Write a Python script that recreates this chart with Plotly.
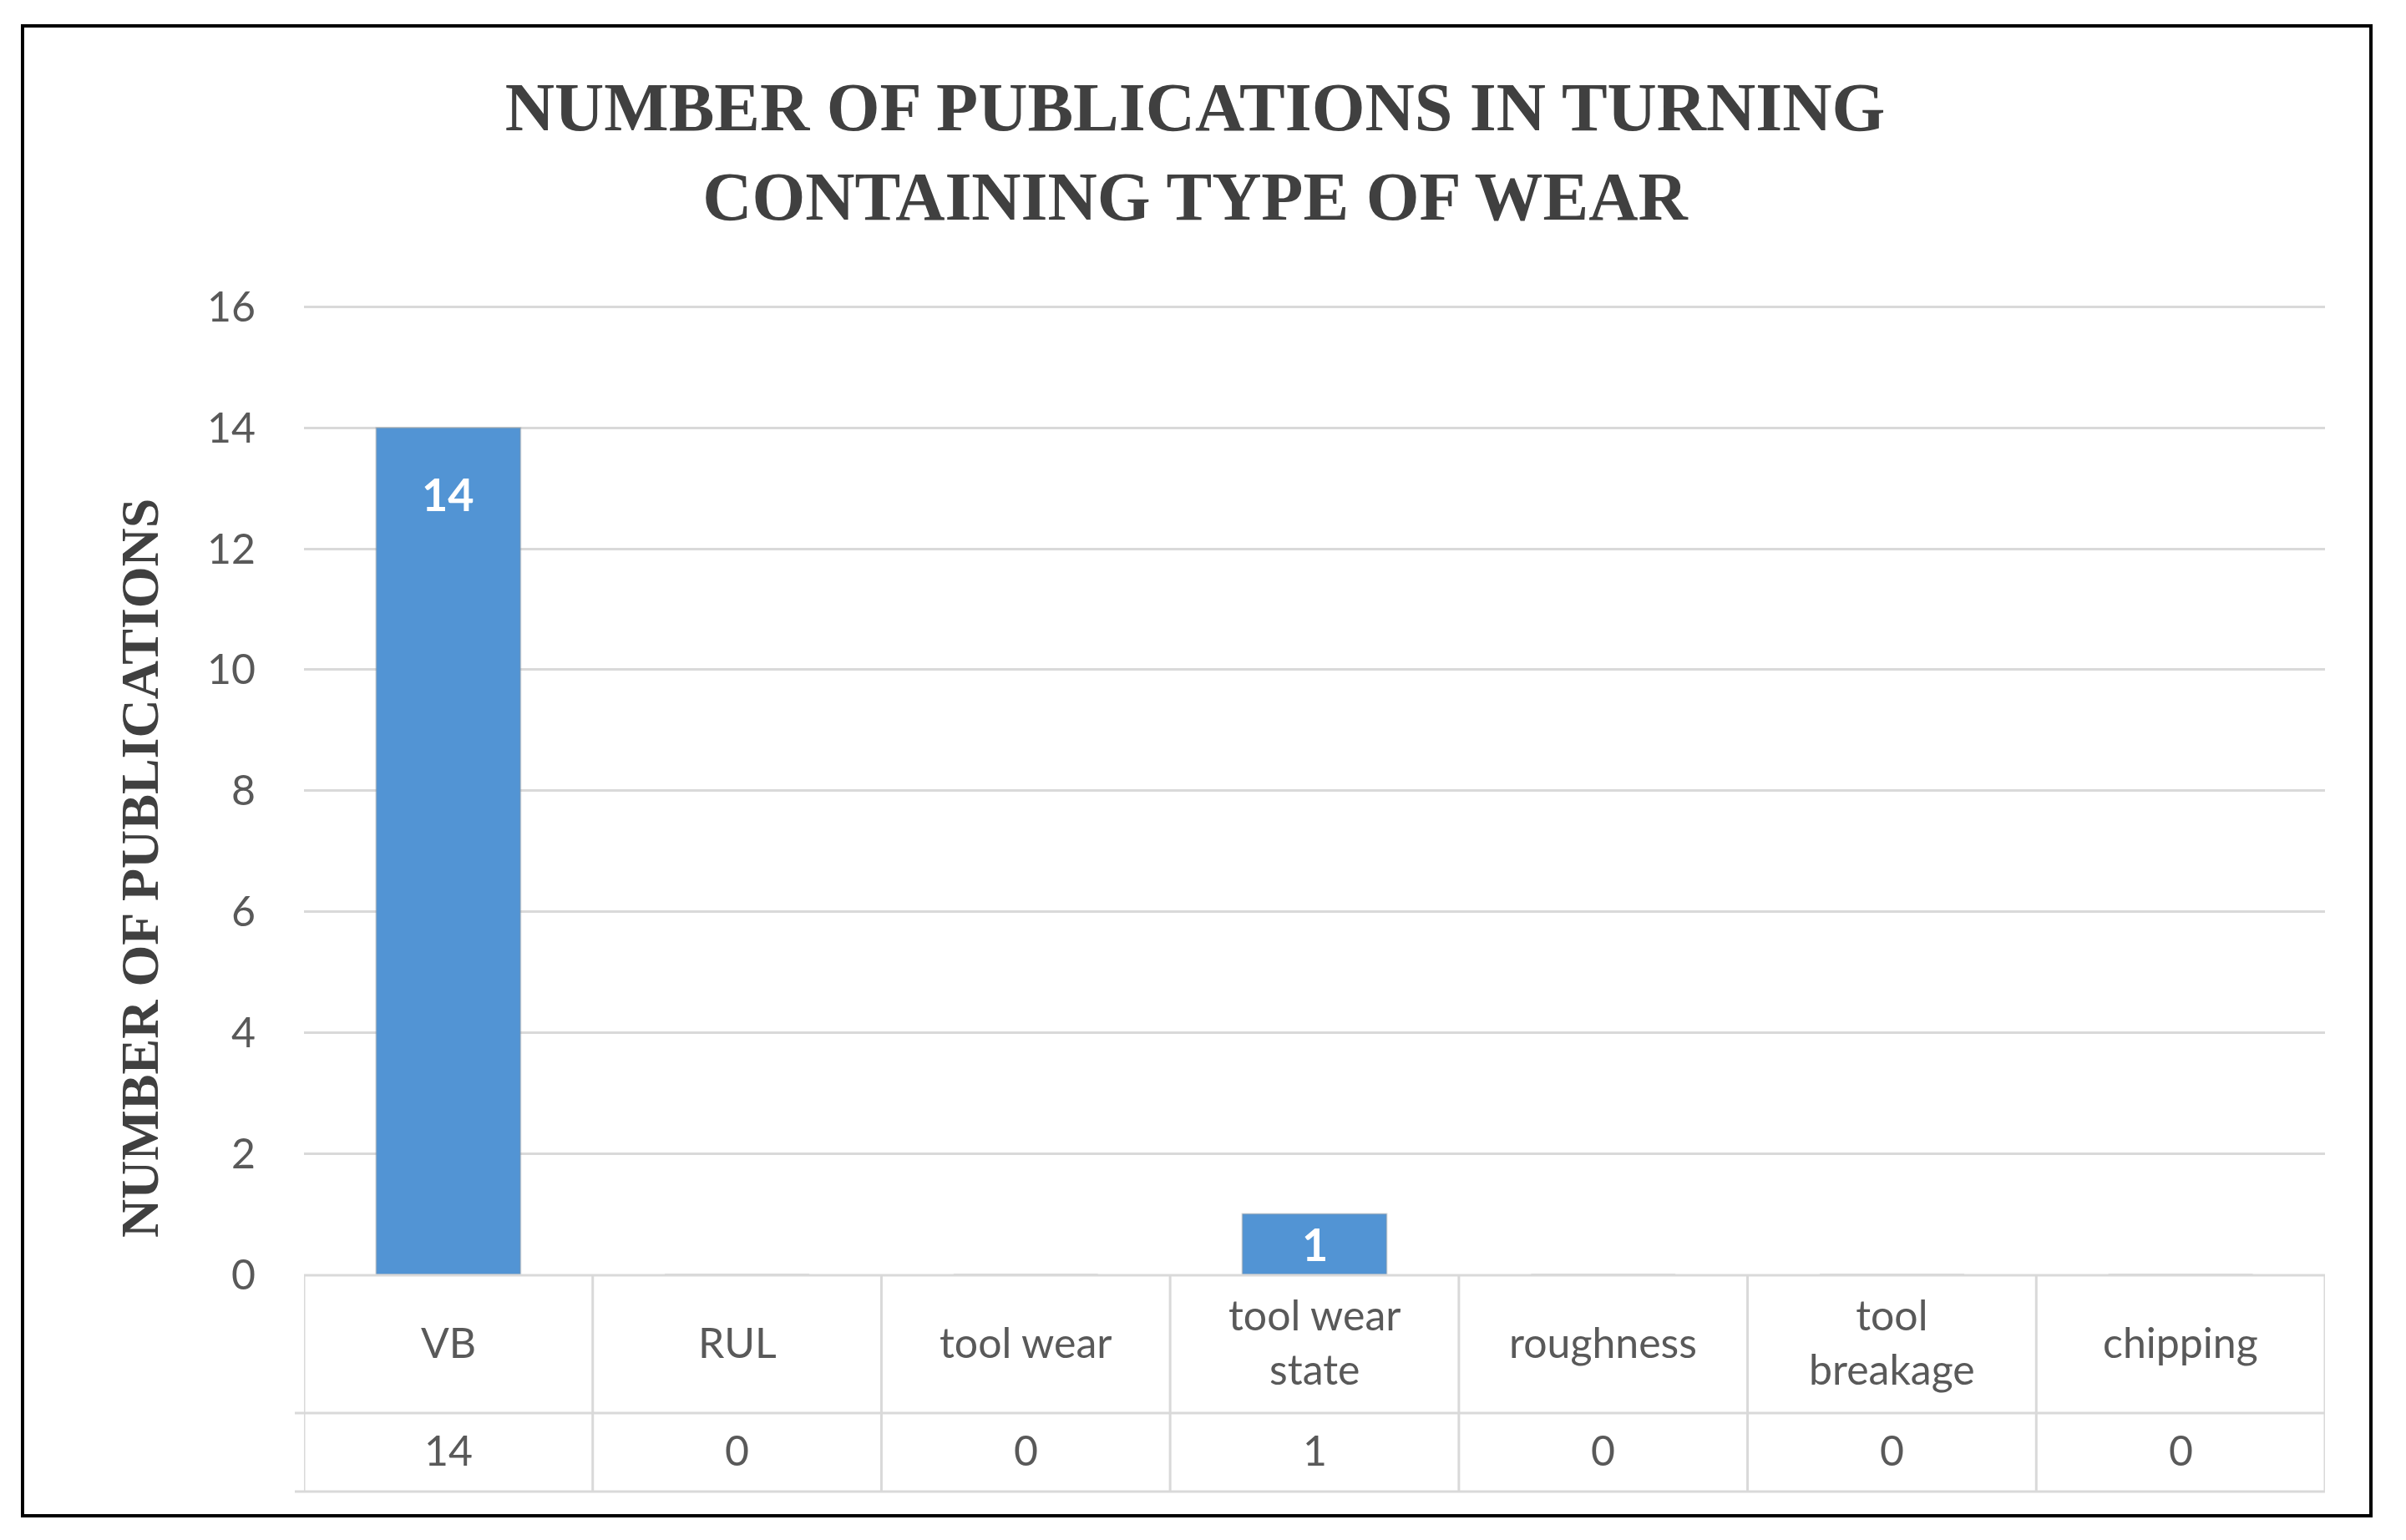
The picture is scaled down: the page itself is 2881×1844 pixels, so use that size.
import plotly.graph_objects as go

# ---------------- data ----------------
categories = ["VB", "RUL", "tool wear", "tool wear state", "roughness", "tool breakage", "chipping"]
table_labels = ["VB", "RUL", "tool wear", "tool wear<br>state", "roughness", "tool<br>breakage", "chipping"]
publications = [14, 0, 0, 1, 0, 0, 0]
y_ticks = [0, 2, 4, 6, 8, 10, 12, 14, 16]

chart_title = "NUMBER OF PUBLICATIONS IN TURNING<br>CONTAINING TYPE OF WEAR"
y_title = "NUMBER OF PUBLICATIONS"

# ---------------- layout constants (pixels) ----------------
W, H = 2881, 1844
PL, PR, PT, PB = 364, 2784, 366, 1526


def pxx(px):
    return (px - PL) / (PR - PL)


def pxy(py):
    return (PB - py) / (PB - PT)


BAR_COLOR = "#5294D4"
GRID = "#D9D9D9"
TEXT_GRAY = "#595959"
TITLE_GRAY = "#404040"
SANS = "Lato, 'Open Sans', sans-serif"
SERIF = "'Liberation Serif', 'DejaVu Serif', serif"

n = len(categories)

fig = go.Figure()
fig.add_trace(go.Bar(
    x=categories,
    y=publications,
    marker=dict(color=BAR_COLOR, line=dict(color="rgba(150,150,150,0.35)", width=2)),
    hoverinfo="x+y",
))

shapes = []
# outer frame
shapes.append(dict(type="rect", xref="paper", yref="paper",
                   x0=pxx(27), x1=pxx(2839), y0=pxy(31), y1=pxy(1815),
                   line=dict(color="black", width=4), fillcolor="rgba(0,0,0,0)", layer="below"))
# table horizontal lines
shapes.append(dict(type="line", xref="paper", yref="paper", x0=pxx(PL), x1=pxx(PR),
                   y0=pxy(1527), y1=pxy(1527), line=dict(color=GRID, width=3)))
for yy in (1692, 1786):
    shapes.append(dict(type="line", xref="paper", yref="paper", x0=pxx(353), x1=pxx(PR),
                       y0=pxy(yy), y1=pxy(yy), line=dict(color=GRID, width=3)))
# table vertical lines at category boundaries
for i in range(n + 1):
    shapes.append(dict(type="line", xref="x", yref="paper", x0=i - 0.5, x1=i - 0.5,
                       y0=pxy(1527), y1=pxy(1786), line=dict(color=GRID, width=3)))

annotations = []
for cat, lab, v in zip(categories, table_labels, publications):
    annotations.append(dict(x=cat, xref="x", y=pxy(1607), yref="paper", text=lab,
                            showarrow=False, yanchor="middle",
                            font=dict(family=SANS, size=50, color=TEXT_GRAY)))
    annotations.append(dict(x=cat, xref="x", y=pxy(1736), yref="paper", text=str(v),
                            showarrow=False, yanchor="middle",
                            font=dict(family=SANS, size=50, color=TEXT_GRAY)))
    if v > 0:
        annotations.append(dict(x=cat, xref="x", y=v - min(1.1, v / 2), yref="y",
                                text="<b>%d</b>" % v, showarrow=False, yanchor="middle",
                                font=dict(family=SANS, size=54, color="white")))

# y-axis title
annotations.append(dict(x=pxx(167), y=pxy(1040), xref="paper", yref="paper",
                        text="<b>" + y_title + "</b>", textangle=-90, showarrow=False,
                        xanchor="center", yanchor="middle",
                        font=dict(family=SERIF, size=64, color=TITLE_GRAY)))

fig.update_layout(
    width=W, height=H,
    margin=dict(l=PL, r=W - PR, t=PT, b=H - PB, pad=0),
    paper_bgcolor="white", plot_bgcolor="white",
    showlegend=False,
    bargap=0.5,
    title=dict(text="<b>" + chart_title + "</b>", x=1431 / W, xanchor="center",
               y=1 - 156 / H, yanchor="middle", xref="container", yref="container",
               font=dict(family=SERIF, size=82, color=TITLE_GRAY)),
    xaxis=dict(showticklabels=False, showgrid=False, zeroline=False, showline=False,
               ticks="", range=[-0.5, n - 0.5]),
    yaxis=dict(range=[0, 16.02], tickvals=y_ticks, showgrid=True, gridcolor=GRID, gridwidth=3,
               zeroline=False, showline=False, ticks="", ticklabelstandoff=57,
               tickfont=dict(family=SANS, size=50, color=TEXT_GRAY)),
    shapes=shapes,
    annotations=annotations,
)

fig.write_html("out.html", config={"displayModeBar": False},
               post_script="document.body.style.margin='0';")
